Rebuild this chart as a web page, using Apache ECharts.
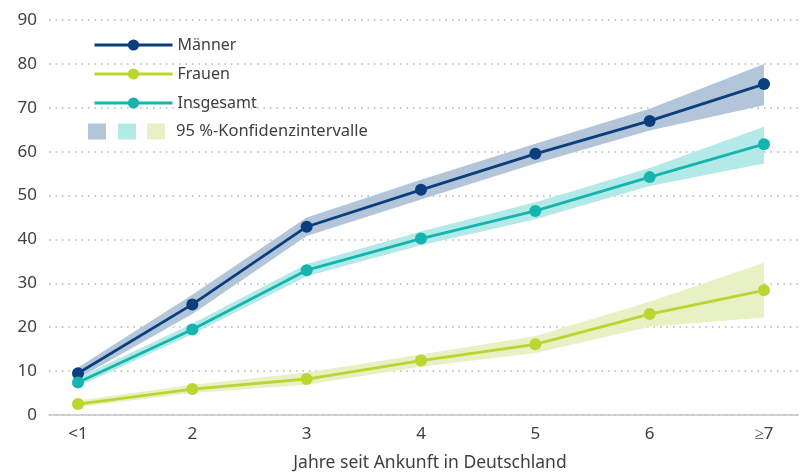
<!DOCTYPE html>
<html><head><meta charset="utf-8">
<script src="https://cdn.jsdelivr.net/npm/echarts@6/dist/echarts.min.js"></script>
<style>html,body{margin:0;padding:0;background:#fff}#c{width:806px;height:472px}</style>
</head><body><div id="c"></div>
<script>
const categories = ['<1', '2', '3', '4', '5', '6', '≥7'];
const seriesNames = ['Männer', 'Frauen', 'Insgesamt'];
const ciLabel = '95 %-Konfidenzintervalle';
const xName = 'Jahre seit Ankunft in Deutschland';

const maenner     = [9.5, 25.2, 42.9, 51.3, 59.5, 67.0, 75.4];
const maennerLow  = [8.3, 23.0, 40.8, 49.1, 57.3, 64.8, 70.6];
const maennerHigh = [10.8, 27.4, 45.0, 53.6, 61.8, 69.8, 80.0];

const frauen      = [2.5, 5.9, 8.2, 12.4, 16.1, 23.0, 28.4];
const frauenLow   = [1.8, 5.0, 6.9, 11.0, 14.1, 20.1, 22.2];
const frauenHigh  = [3.3, 6.9, 9.7, 13.8, 18.0, 25.8, 34.7];

const insgesamt     = [7.4, 19.5, 33.0, 40.2, 46.5, 54.2, 61.7];
const insgesamtLow  = [6.5, 18.4, 31.6, 38.7, 44.6, 52.2, 57.3];
const insgesamtHigh = [8.5, 20.8, 34.4, 41.8, 48.5, 56.3, 65.7];

const FONT = 'Noto Sans';
const TXT = '#404040';
const colors = { m: '#0b3e7e', f: '#bcd530', i: '#15b4af' };
const bandColors = { m: '#b2c5d9', f: '#e8f1c4', i: '#b3e9e7' };

function band(key, low, high) {
  const common = { type: 'line', xAxisIndex: 1, yAxisIndex: 1, stack: 'band-' + key,
    symbol: 'none', silent: true, lineStyle: { width: 0, opacity: 0 } };
  return [
    Object.assign({}, common, { data: low, areaStyle: { opacity: 0 } }),
    Object.assign({}, common, { data: high.map((h, i) => +(h - low[i]).toFixed(3)),
      areaStyle: { color: bandColors[key], opacity: 1 } })
  ];
}
function line(name, key, data) {
  return { name, type: 'line', xAxisIndex: 1, yAxisIndex: 1, data,
    symbol: 'circle', symbolSize: 12, z: 5,
    itemStyle: { color: colors[key] }, lineStyle: { color: colors[key], width: 2.8 } };
}

const chart = echarts.init(document.getElementById('c'), null, { renderer: 'canvas' });
chart.setOption({
  animation: false,
  backgroundColor: '#fff',
  textStyle: { fontFamily: FONT },
  grid: [
    { left: 49, right: 8, top: 20, bottom: 57, outerBoundsMode: 'none', containLabel: false },
    { left: 78, right: 42, top: 20, bottom: 57, outerBoundsMode: 'none', containLabel: false }
  ],
  xAxis: [
    { gridIndex: 0, type: 'value', min: 0, max: 1,
      axisLine: { show: true, lineStyle: { color: '#c4c4c4', width: 1.5 } },
      axisTick: { show: false }, axisLabel: { show: false }, splitLine: { show: false } },
    { gridIndex: 1, type: 'category', boundaryGap: false, data: categories,
      axisLine: { show: false }, axisTick: { show: false },
      axisLabel: { color: TXT, fontSize: 17, margin: 11, fontFamily: FONT },
      name: xName, nameLocation: 'middle', nameGap: 39,
      nameTextStyle: { color: TXT, fontSize: 17.5, fontFamily: FONT, padding: [0, 0, 0, 18] } }
  ],
  yAxis: [
    { gridIndex: 0, type: 'value', min: 0, max: 90, interval: 10,
      axisLine: { show: false }, axisTick: { show: false },
      axisLabel: { color: TXT, fontSize: 17, margin: 12, fontFamily: FONT },
      splitLine: { show: true, lineStyle: { color: '#b5b5b5', type: [1.5, 5], width: 1.5 } } },
    { gridIndex: 1, type: 'value', min: 0, max: 90, interval: 10, show: false,
      splitLine: { show: false } }
  ],
  legend: {
    data: seriesNames, orient: 'vertical', left: 88, top: 32,
    itemWidth: 78, itemHeight: 14, itemGap: 13,
    lineStyle: { width: 3 },
    textStyle: { color: TXT, fontSize: 16, fontFamily: FONT, padding: [0, 0, 0, 0] }
  },
  graphic: [
    { type: 'group', left: 88, top: 123, children: [
      { type: 'rect', shape: { x: 0, y: 0, width: 18, height: 16 }, style: { fill: bandColors.m } },
      { type: 'rect', shape: { x: 30, y: 0, width: 18, height: 16 }, style: { fill: bandColors.i } },
      { type: 'rect', shape: { x: 59, y: 0, width: 18, height: 16 }, style: { fill: bandColors.f } },
      { type: 'text', x: 88, y: 8, style: { text: ciLabel, fill: TXT, font: '16.5px "' + FONT + '"', verticalAlign: 'middle' } }
    ] }
  ],
  series: [].concat(
    band('m', maennerLow, maennerHigh),
    band('i', insgesamtLow, insgesamtHigh),
    band('f', frauenLow, frauenHigh),
    [line('Männer', 'm', maenner), line('Frauen', 'f', frauen), line('Insgesamt', 'i', insgesamt)]
  )
});
</script></body></html>
